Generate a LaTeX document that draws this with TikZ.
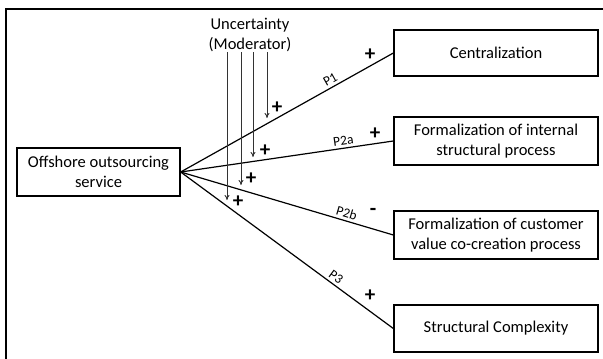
\documentclass[tikz,border=0pt]{standalone}
\usepackage{fontspec}
\setmainfont{Carlito}
\usetikzlibrary{arrows.meta}
\begin{document}
\begin{tikzpicture}[x=1pt,y=-1pt,
 box/.style={draw, line width=1.3pt, minimum width=204pt, minimum height=47pt, align=center, font=\fontsize{16.5}{20}\selectfont, inner sep=0pt},
 link/.style={line width=1.2pt},
 mod/.style={line width=0.9pt, draw=black!80, -{To[length=5pt,width=5pt]}},
 sign/.style={font=\fontsize{21}{21}\selectfont\bfseries, inner sep=0pt},
 plab/.style={font=\fontsize{13.5}{13.5}\selectfont, above, sloped, inner sep=2.5pt}]
\useasboundingbox (0,0) rectangle (603,359);
\draw[line width=2.2pt] (6,359) -- (6,9) -- (603,9);
\node[box, minimum width=163pt, minimum height=48pt] (src) at (98.5,172) {Offshore outsourcing\\service};
\node[box, minimum height=46pt] (c1) at (496,53) {Centralization};
\node[box, minimum height=48pt] (c2) at (496,141) {Formalization of internal\\structural process};
\node[box, minimum height=48pt] (c3) at (496,235) {Formalization of customer\\value co-creation process};
\node[box, minimum height=47pt] (c4) at (496,328.5) {Structural Complexity};
\node[align=center, font=\fontsize{16.5}{20}\selectfont, inner sep=0pt] (unc) at (250,35) {Uncertainty\\(Moderator)};
\draw[link] (src.east) -- node[plab, pos=0.72] (p1) {P1} (c1.west);
\draw[link] (src.east) -- node[plab, pos=0.77] (p2a) {P2a} (c2.west);
\draw[link] (src.east) -- node[plab, pos=0.77] (p2b) {P2b} (c3.west);
\draw[link] (src.east) -- node[plab, pos=0.71] (p3) {P3} (c4.west);
\node[sign] (s1) at (370,55) {+};
\node[sign] (s2) at (375,134) {+};
\node[sign] (s3) at (373,212) {-};
\node[sign] (s4) at (370,296) {+};
\coordinate (a1) at (267,52); \coordinate (b1) at (267,118);
\coordinate (a2) at (253,52); \coordinate (b2) at (253,157);
\coordinate (a3) at (241,52); \coordinate (b3) at (241,185);
\coordinate (a4) at (227,52); \coordinate (b4) at (227,200);
\draw[mod] (a1) -- (b1);
\draw[mod] (a2) -- (b2);
\draw[mod] (a3) -- (b3);
\draw[mod] (a4) -- (b4);
\node[sign] (t1) at (277,108) {+};
\node[sign] (t2) at (265,151) {+};
\node[sign] (t3) at (251,179) {+};
\node[sign] (t4) at (238,202) {+};
\end{tikzpicture}
\end{document}
